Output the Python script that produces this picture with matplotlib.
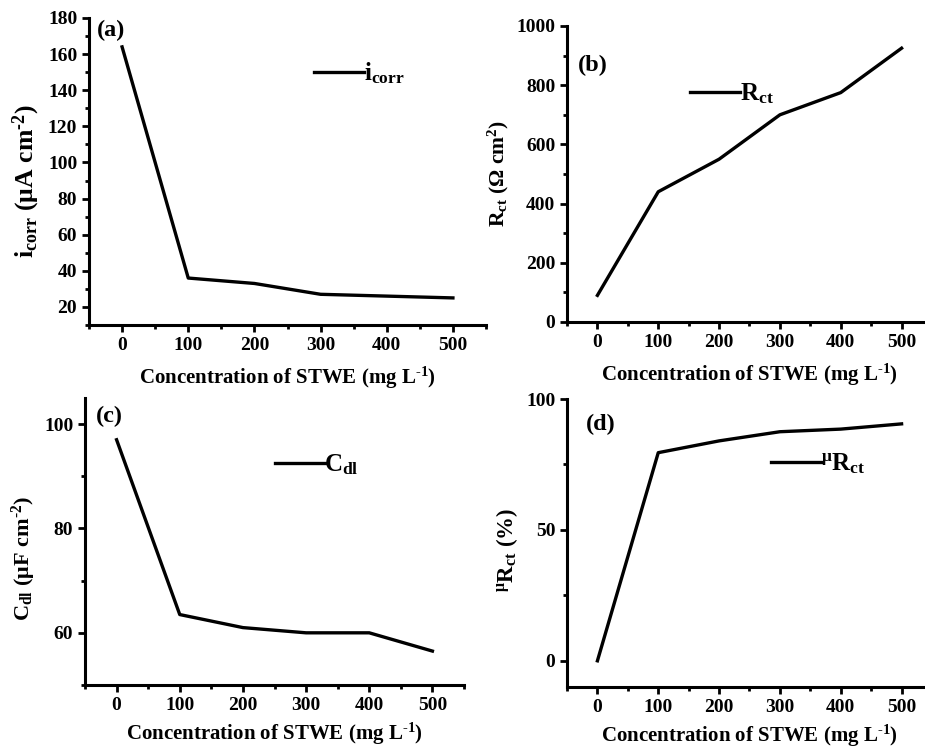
""" EIS parameters vs STWE concentration """

import matplotlib.pyplot as plt
from matplotlib.ticker import MultipleLocator

plt.rcParams["font.family"] = ["Liberation Serif", "DejaVu Serif"]
plt.rcParams["font.weight"] = "bold"
plt.rcParams["mathtext.fontset"] = "custom"
plt.rcParams["mathtext.rm"] = "Liberation Serif:bold"
plt.rcParams["mathtext.it"] = "Liberation Serif:bold"
plt.rcParams["mathtext.bf"] = "Liberation Serif:bold"

conc = [0, 100, 200, 300, 400, 500]
i_corr = [164, 36, 33, 27, 26, 25]
r_ct = [90, 440, 550, 700, 775, 925]
c_dl = [97, 63.5, 61, 60, 60, 56.5]
eta_rct = [0, 79.5, 84, 87.5, 88.5, 90.5]

HY = "\u2010"
XLABEL = "Concentration of STWE (mg L$^{\\mathrm{" + HY + "1}}$)"

fig = plt.figure(figsize=(9.25, 7.51), dpi=100)
W, H = 925, 751


def make_axes(left, right, top, bottom):
    """axes from pixel box"""
    return fig.add_axes([left / W, 1 - bottom / H, (right - left) / W, (bottom - top) / H])


panels = [
    # box, y data, ylim, major, minor, ylabel, size, label y, tag, tag pos, legend label, legend pos
    ((89, 486, 18, 325), i_corr, (10, 180), 20, 10,
     "i$_{\\mathrm{corr}}$ (μA cm$^{\\mathrm{" + HY + "2}}$)", 18.5, 0.47,
     "(a)", (0.02, 0.96), "i$_{\\mathrm{corr}}$", (0.567, 0.82)),
    ((567, 932, 26, 322), r_ct, (0, 1000), 200, 100,
     "R$_{\\mathrm{ct}}$ (Ω cm$^{\\mathrm{2}}$)", 15.5, 0.5,
     "(b)", (0.03, 0.868), "R$_{\\mathrm{ct}}$", (0.337, 0.77)),
    ((85, 464, 398, 685), c_dl, (50, 105), 20, 10,
     "C$_{\\mathrm{dl}}$ (μF cm$^{\\mathrm{" + HY + "2}}$)", 16, 0.44,
     "(c)", (0.03, 0.934), "C$_{\\mathrm{dl}}$", (0.50, 0.766)),
    ((567, 932, 399, 687), eta_rct, (-10, 100), 50, 25,
     "$^{\\mathrm{μ}}$R$_{\\mathrm{ct}}$ (%)", 16.5, 0.476,
     "(d)", (0.052, 0.91), "$^{\\mathrm{μ}}$R$_{\\mathrm{ct}}$", (0.56, 0.774)),
]

for idx, (box, values, ylim, major, minor, ylabel, ysize, ylab_y,
          tag, tag_pos, leg_label, leg_pos) in enumerate(panels):
    ax = make_axes(*box)
    ax.plot(conc, values, color="black", lw=2.4, label=leg_label)
    ax.set_xlim(-50, 550)
    ax.set_ylim(*ylim)
    ax.xaxis.set_major_locator(MultipleLocator(100))
    ax.xaxis.set_minor_locator(MultipleLocator(50))
    ax.yaxis.set_major_locator(MultipleLocator(major))
    ax.yaxis.set_minor_locator(MultipleLocator(minor))
    ax.set_xticks(conc)
    for side in ("top", "right"):
        ax.spines[side].set_visible(False)
    for side in ("left", "bottom"):
        ax.spines[side].set_linewidth(2.2)
    ax.tick_params(which="major", direction="out", length=5, width=2, labelsize=14)
    ax.tick_params(which="minor", direction="out", length=3, width=2)
    for lab in ax.get_xticklabels() + ax.get_yticklabels():
        lab.set_fontweight("bold")
    ax.set_xlabel(XLABEL, fontsize=15, fontweight="bold", labelpad=8 if idx < 2 else 5)
    ax.set_ylabel(ylabel, fontsize=ysize, fontweight="bold", labelpad=4, y=ylab_y)
    ax.text(*tag_pos, tag, transform=ax.transAxes, fontsize=17.5,
            fontweight="bold", va="center")
    ax.legend(loc="center left", bbox_to_anchor=leg_pos, frameon=False,
              borderpad=0, borderaxespad=0,
              handlelength=2.0, handletextpad=0.0, fontsize=18)

fig.savefig("out.png", dpi=100)
